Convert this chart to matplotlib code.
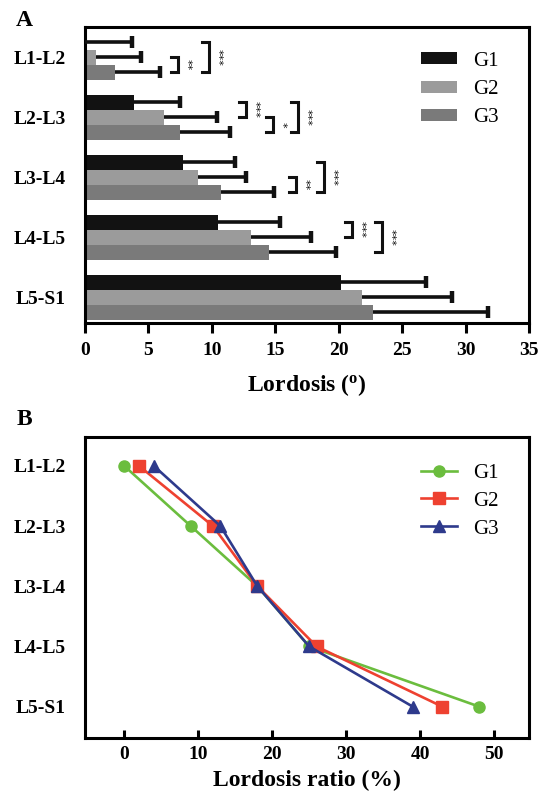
import matplotlib
matplotlib.use("Agg")
import matplotlib.pyplot as plt
import numpy as np

plt.rcParams['font.family'] = ['Liberation Serif', 'DejaVu Serif']
plt.rcParams['mathtext.fontset'] = 'custom'
plt.rcParams['mathtext.rm'] = 'Liberation Serif'
plt.rcParams['mathtext.bf'] = 'Liberation Serif:bold'

levels = ["L1-L2", "L2-L3", "L3-L4", "L4-L5", "L5-S1"]
groups = ["G1", "G2", "G3"]

# panel A: lordosis (deg), mean and SD (upper error only)
g1_mean = [0.0, 3.9, 7.75, 10.5, 20.2]
g2_mean = [0.9, 6.2, 8.9, 13.1, 21.8]
g3_mean = [2.4, 7.5, 10.7, 14.5, 22.7]
g1_sd = [3.7, 3.55, 4.05, 4.9, 6.7]
g2_sd = [3.5, 4.2, 3.8, 4.7, 7.1]
g3_sd = [3.5, 3.9, 4.2, 5.3, 9.1]

# panel B: lordosis ratio (%)
g1_ratio = [0, 9, 18, 25, 48]
g2_ratio = [2, 12, 18, 26, 43]
g3_ratio = [4, 13, 18, 25, 39]

# significance brackets: (level index, group a, group b, x, stars)
sig = [
    (0, 1, 2, 7.3, "**"),
    (0, 0, 2, 9.75, "***"),
    (1, 0, 1, 12.7, "***"),
    (1, 1, 2, 14.8, "*"),
    (1, 0, 2, 16.8, "***"),
    (2, 1, 2, 16.6, "**"),
    (2, 0, 2, 18.85, "***"),
    (3, 0, 1, 21.05, "***"),
    (3, 0, 2, 23.4, "***"),
]

bar_colors = ["#121212", "#9b9b9b", "#7a7a7a"]
line_colors = ["#6bbd3e", "#ee4130", "#2e3a8c"]
markers = ["o", "s", "^"]

fig = plt.figure(figsize=(5.39, 7.98), dpi=100)
axA = fig.add_axes([0.1577, 0.5952, 0.8237, 0.3709])
axB = fig.add_axes([0.1577, 0.0752, 0.8237, 0.3772])

y = np.arange(len(levels))
h = 0.25
means = [g1_mean, g2_mean, g3_mean]
sds = [g1_sd, g2_sd, g3_sd]
for k in range(3):
    yy = y + (k - 1) * h
    m = np.array(means[k])
    top = m + np.array(sds[k])
    axA.barh(yy, m, height=h, color=bar_colors[k], label=groups[k], zorder=2)
    axA.hlines(yy, m, top, color="#111111", lw=2.6, zorder=3)
    axA.plot(top, yy, ls="none", marker="|", ms=8, mew=3.2,
             color="#111111", zorder=3)

arm = 0.55
for lev, a, b, x, s in sig:
    ya = lev + (a - 1) * h
    yb = lev + (b - 1) * h
    axA.plot([x - arm, x, x, x - arm], [ya, ya, yb, yb], color="#111111",
             lw=2.2, solid_joinstyle="miter", zorder=3)
    axA.text(x + 0.3, (ya + yb) / 2, s, rotation=270, fontsize=8,
             ha="left", va="center", color="#111111",
             family="DejaVu Sans")

axA.set_xlim(0, 35)
axA.set_ylim(4.43, -0.5)
axA.set_xticks(np.arange(0, 36, 5))
axA.set_yticks(y)
axA.set_yticklabels(levels)
axA.set_xlabel("Lordosis ($\\mathbf{^{o}}$)", fontsize=17, fontweight="bold",
               labelpad=9)
axA.tick_params(axis="y", length=0, pad=14, labelsize=14)
axA.tick_params(axis="x", direction="out", length=7, width=2.2,
                labelsize=14, pad=7)
for lab in axA.get_xticklabels() + axA.get_yticklabels():
    lab.set_fontweight("bold")
for sp in axA.spines.values():
    sp.set_linewidth(2.2)
axA.legend(loc="upper right", bbox_to_anchor=(0.975, 0.98),
           frameon=False, fontsize=15, handlelength=1.7,
           handleheight=0.5, labelspacing=0.45, handletextpad=0.8)

ratios = [g1_ratio, g2_ratio, g3_ratio]
for k in range(3):
    axB.plot(ratios[k], y, color=line_colors[k], marker=markers[k],
             markersize=8, lw=1.9, label=groups[k])
axB.set_xlim(-5.3, 54.7)
axB.set_ylim(4.52, -0.48)
axB.set_xticks(np.arange(0, 51, 10))
axB.set_yticks(y)
axB.set_yticklabels(levels)
axB.set_xlabel("Lordosis ratio (%)", fontsize=17, fontweight="bold",
               labelpad=5)
axB.tick_params(axis="y", length=0, pad=14, labelsize=14)
axB.tick_params(axis="x", direction="in", length=6, width=2.2,
                labelsize=14, pad=6)
for lab in axB.get_xticklabels() + axB.get_yticklabels():
    lab.set_fontweight("bold")
for sp in axB.spines.values():
    sp.set_linewidth(2.2)
axB.legend(loc="upper right", bbox_to_anchor=(0.975, 0.975), frameon=False,
           fontsize=15, handlelength=1.7, labelspacing=0.4,
           handletextpad=0.8)

fig.text(0.03, 0.988, "A", fontsize=17, fontweight="bold", va="top")
fig.text(0.03, 0.487, "B", fontsize=17, fontweight="bold", va="top")

fig.savefig("out.png", dpi=100)
